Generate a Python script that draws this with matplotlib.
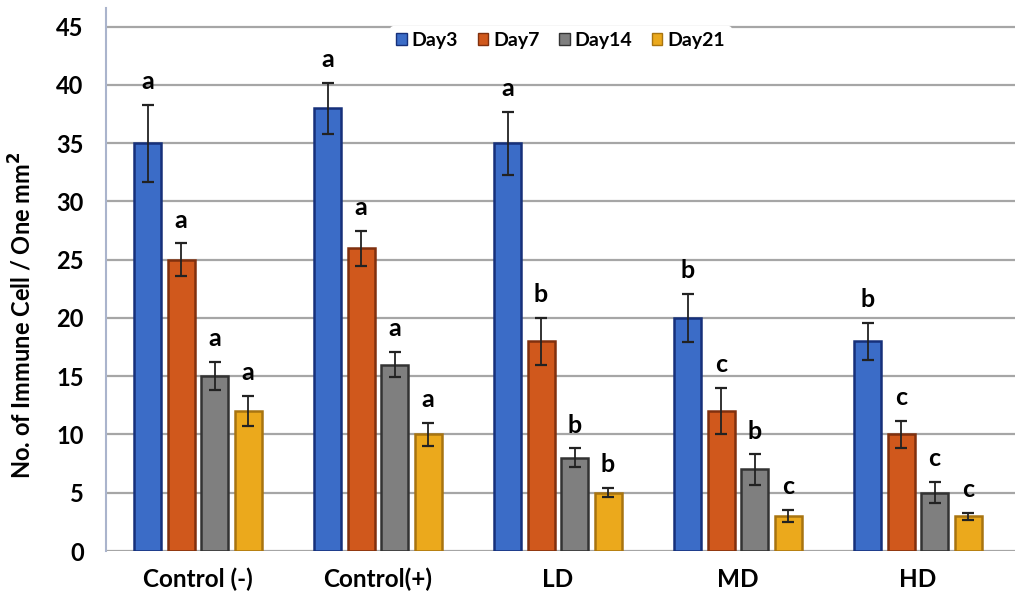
import matplotlib
matplotlib.use("Agg")
import matplotlib.pyplot as plt
import numpy as np

plt.rcParams["font.family"] = ["Lato", "DejaVu Sans"]
plt.rcParams["font.weight"] = "bold"

groups = ["Control (-)", "Control(+)", "LD", "MD", "HD"]
days = ["Day3", "Day7", "Day14", "Day21"]

# mean counts per group, one list per day
day3 = [35, 38, 35, 20, 18]
day7 = [25, 26, 18, 12, 10]
day14 = [15, 16, 8, 7, 5]
day21 = [12, 10, 5, 3, 3]

# error bar half-widths
err3 = [3.3, 2.2, 2.7, 2.1, 1.6]
err7 = [1.4, 1.5, 2.0, 2.0, 1.2]
err14 = [1.2, 1.1, 0.8, 1.3, 0.9]
err21 = [1.3, 1.0, 0.4, 0.5, 0.3]

# significance letters
let3 = ["a", "a", "a", "b", "b"]
let7 = ["a", "a", "b", "c", "c"]
let14 = ["a", "a", "b", "b", "c"]
let21 = ["a", "a", "b", "c", "c"]

colors = ["#3b6cc7", "#d0581c", "#7f7f7f", "#eba91c"]
edges = ["#16307a", "#80300e", "#333333", "#a87410"]

fig = plt.figure(figsize=(10.21, 6.03), dpi=100)
ax = fig.add_axes([106 / 1021, 0.0862, 909 / 1021, 0.9005])

x = np.arange(len(groups))
width = 0.15
step = 0.186
series = [(day3, err3, let3), (day7, err7, let7),
          (day14, err14, let14), (day21, err21, let21)]
for i, (vals, errs, lets) in enumerate(series):
    pos = x + (i - 1.5) * step
    ax.bar(pos, vals, width, color=colors[i], edgecolor=edges[i],
           linewidth=1.8, label=days[i], zorder=3)
    ax.errorbar(pos, vals, yerr=errs, fmt="none", ecolor="#222222",
                elinewidth=1.3, capsize=4, capthick=1.6, zorder=4)
    for p, v, e, t in zip(pos, vals, errs, lets):
        ax.text(p, v + e + 2.0, t, ha="center", va="center",
                fontsize=18, fontweight="bold", zorder=5)

ax.set_xlim(-0.51, 4.54)
ax.set_ylim(0, 46.6)
ax.set_yticks(range(0, 46, 5))
ax.set_xticks(x)
ax.set_xticklabels(groups, fontsize=17.5, fontweight="bold")
ax.tick_params(axis="y", labelsize=17, length=0, pad=16)
ax.tick_params(axis="x", length=0, pad=12)
ax.yaxis.grid(True, color="#a6a6a6", linewidth=1.6, zorder=0)
ax.set_axisbelow(True)
for s in ["top", "right", "bottom"]:
    ax.spines[s].set_visible(False)
ax.spines["left"].set_color("#aab4cc")
ax.spines["left"].set_linewidth(1.5)

ax.set_ylabel("No. of Immune Cell / One mm$^\\mathbf{2}$", fontsize=17,
              fontweight="bold")
ax.yaxis.set_label_coords(-0.078, 0.435)

leg = ax.legend(loc="upper center", bbox_to_anchor=(0.5, 0.985), ncol=4,
                frameon=True, framealpha=1, edgecolor="white",
                fontsize=14, handlelength=0.55, handleheight=0.55,
                handletextpad=0.25, columnspacing=1.0, borderpad=0.3)
for h in leg.legend_handles:
    h.set_linewidth(1.0)

fig.savefig("out.png", dpi=100)
